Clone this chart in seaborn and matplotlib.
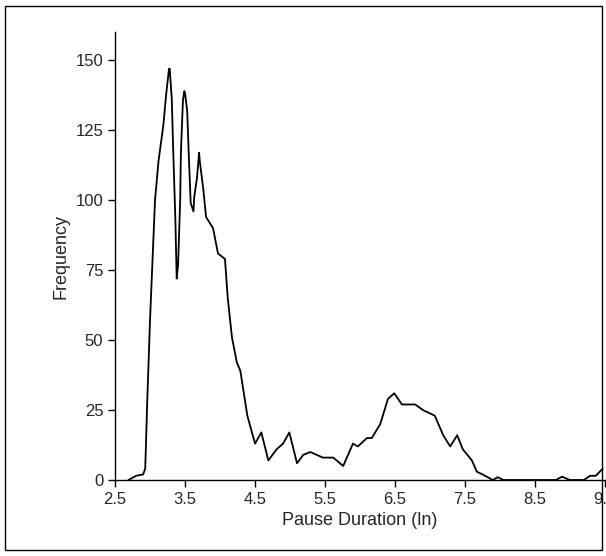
import matplotlib
matplotlib.use("Agg")
import matplotlib.pyplot as plt
import seaborn as sns
import pandas as pd

duration = [2.69, 2.8, 2.9, 2.93, 2.96, 3.0, 3.07, 3.12, 3.19, 3.23, 3.27, 3.28, 3.31, 3.33, 3.36, 3.38, 3.40,
            3.43, 3.44, 3.47, 3.49, 3.50, 3.53, 3.55, 3.58, 3.62, 3.63, 3.67, 3.70, 3.71, 3.76, 3.80, 3.90,
            3.97, 4.07, 4.11, 4.17, 4.24, 4.29, 4.39, 4.5, 4.59, 4.69, 4.81, 4.9, 4.99, 5.1, 5.19, 5.29,
            5.47, 5.62, 5.76, 5.9, 5.97, 6.1, 6.17, 6.29, 6.4, 6.49, 6.6, 6.79, 6.9, 7.07, 7.19, 7.29, 7.39,
            7.47, 7.6, 7.67, 7.75, 7.9, 7.97, 8.05, 8.8, 8.89, 9.0, 9.2, 9.29, 9.37, 9.47]
frequency = [0, 1.5, 2, 4, 29, 58, 100, 114, 127, 138, 147, 147, 136, 118, 94, 72, 77,
             100, 117, 136, 139, 138, 132, 118, 99, 96, 101, 108, 117, 114, 104, 94, 90,
             81, 79, 65, 51, 42, 39, 23, 13, 17, 7, 11, 13, 17, 6, 9, 10,
             8, 8, 5, 13, 12, 15, 15, 20, 29, 31, 27, 27, 25, 23, 16, 12, 16,
             11, 7, 3, 2, 0, 1, 0, 0, 1.2, 0, 0, 1.5, 1.5, 4]
xticks = [2.5, 3.5, 4.5, 5.5, 6.5, 7.5, 8.5, 9.5]
yticks = [0, 25, 50, 75, 100, 125, 150]

df = pd.DataFrame({"d": duration, "f": frequency})
sns.set_style("white")
plt.rcParams["font.family"] = ["Liberation Sans", "DejaVu Sans"]

fig = plt.figure(figsize=(6.06, 5.56), dpi=100)
ax = fig.add_axes([0.19, 0.1367, 0.808, 0.805])
sns.lineplot(data=df, x="d", y="f", color="black", linewidth=1.3, ax=ax)
ax.set_xlim(2.5, 9.5)
ax.set_ylim(0, 160)
ax.set_xticks(xticks)
ax.set_xticklabels([str(t) for t in xticks])
ax.set_yticks(yticks)
ax.tick_params(axis="both", direction="out", length=5, width=1, labelsize=12, color="black", bottom=True, left=True)
for s in ["top", "right"]:
    ax.spines[s].set_visible(False)
for s in ["left", "bottom"]:
    ax.spines[s].set_color("black")
    ax.spines[s].set_linewidth(1)
ax.set_xlabel("Pause Duration (ln)", fontsize=13)
ax.set_ylabel("Frequency", fontsize=13)
fig.patches.append(plt.Rectangle((0.008, 0.01), 0.986, 0.98, transform=fig.transFigure,
                                 fill=False, edgecolor="black", linewidth=1))
fig.savefig("out.png", dpi=100)
